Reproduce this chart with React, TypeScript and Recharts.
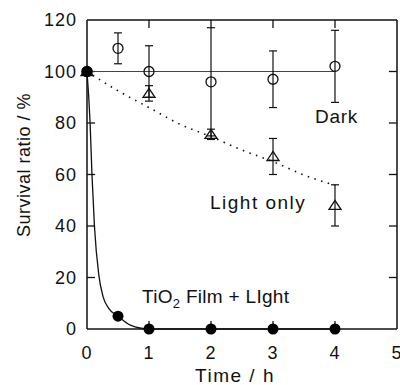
import {
  ComposedChart,
  ErrorBar,
  Line,
  ReferenceLine,
  Scatter,
  XAxis,
  YAxis,
} from "recharts";

const timeTicks = [0, 1, 2, 3, 4, 5];
const ratioTicks = [0, 20, 40, 60, 80, 100, 120];

// measured points (open circles = dark, triangles = light only, filled = TiO2 film + light)
const darkTime = [0, 0.5, 1, 2, 3, 4];
const darkRatio = [100, 109, 100, 96, 97, 102];
const darkErr = [0, 6, 10, 21, 11, 14];

const lightTime = [0, 1, 2, 3, 4];
const lightRatio = [100, 91.5, 75.6, 67, 48];
const lightErr = [0, 3, 2, 7, 8];

const tioTime = [0, 0.5, 1, 2, 3, 4];
const tioRatio = [100, 5, 0, 0, 0, 0];

// fitted curves
const darkFitTime = [0, 4];
const darkFitRatio = [100, 100];
const lightFitTime = [0, 0.5, 1, 1.5, 2, 2.5, 3, 3.5, 4];
const lightFitRatio = [100, 92.5, 86, 79.5, 74.7, 69.5, 65, 59.8, 55.8];
const tioFitTime = [0, 0.05, 0.08, 0.12, 0.19, 0.26, 0.35, 0.5, 0.7, 1, 2, 3, 4];
const tioFitRatio = [100, 80, 60, 40, 21, 12.5, 8, 5, 1.5, 0, 0, 0, 0];

const zip = (t: number[], v: number[], e?: number[]) =>
  t.map((x, i) => ({ t: x, v: v[i], e: e ? e[i] : 0 }));

const darkData = zip(darkTime, darkRatio, darkErr);
const lightData = zip(lightTime, lightRatio, lightErr);
const tioData = zip(tioTime, tioRatio);
const darkFit = zip(darkFitTime, darkFitRatio);
const lightFit = zip(lightFitTime, lightFitRatio);
const tioFit = zip(tioFitTime, tioFitRatio);

const tMin = 0;
const tMax = 5;
const vMin = 0;
const vMax = 120;
// inward tick length (~8px) in data units
const tickT = 0.13;
const tickV = 3.1;

const ink = "#111";
const font = "'Liberation Sans', Arial, Helvetica, sans-serif";

const OpenCircle = (p: any) => (
  <circle cx={p.cx} cy={p.cy} r={5} fill="none" stroke={ink} strokeWidth={1.3} />
);

const OpenTriangle = (p: any) => (
  <path
    d={`M${p.cx},${p.cy - 5} L${p.cx + 6},${p.cy + 4} L${p.cx - 6},${p.cy + 4} Z`}
    fill="none"
    stroke={ink}
    strokeWidth={1.3}
  />
);

const FilledCircle = (p: any) => <circle cx={p.cx} cy={p.cy} r={5.5} fill="#000" />;

const tickStyle = { fontSize: 18, fill: ink, letterSpacing: 1 };

export default function App() {
  const inner = (a: number[]) => a.filter((x, i) => i > 0 && i < a.length - 1);
  return (
    <div style={{ position: "absolute", left: 0, top: 0, fontFamily: font }}>
      <ComposedChart width={400} height={385} margin={{ top: 20, right: 3, bottom: 0, left: 0 }}>
        <XAxis
          type="number"
          dataKey="t"
          domain={[tMin, tMax]}
          ticks={timeTicks}
          interval={0}
          height={56}
          stroke={ink}
          strokeWidth={1.5}
          tickLine={false}
          tickSize={-8}
          tickMargin={25}
          tick={tickStyle}
        />
        <YAxis
          type="number"
          dataKey="v"
          domain={[vMin, vMax]}
          ticks={ratioTicks}
          interval={0}
          width={87}
          stroke={ink}
          strokeWidth={1.5}
          tickLine={false}
          tickSize={-8}
          tickMargin={18}
          tick={tickStyle}
        />

        {/* frame: top and right edges */}
        <ReferenceLine y={vMax} stroke={ink} strokeWidth={1.5} />
        <ReferenceLine x={tMax} stroke={ink} strokeWidth={1.5} />

        {/* inward ticks on all four sides */}
        {inner(timeTicks).map((t) => (
          <ReferenceLine
            key={`b${t}`}
            segment={[{ x: t, y: vMin }, { x: t, y: vMin + tickV }]}
            stroke={ink}
            strokeWidth={1.3}
          />
        ))}
        {inner(timeTicks).map((t) => (
          <ReferenceLine
            key={`t${t}`}
            segment={[{ x: t, y: vMax }, { x: t, y: vMax - tickV }]}
            stroke={ink}
            strokeWidth={1.3}
          />
        ))}
        {inner(ratioTicks).map((v) => (
          <ReferenceLine
            key={`l${v}`}
            segment={[{ x: tMin, y: v }, { x: tMin + tickT, y: v }]}
            stroke={ink}
            strokeWidth={1.3}
          />
        ))}
        {inner(ratioTicks).map((v) => (
          <ReferenceLine
            key={`r${v}`}
            segment={[{ x: tMax, y: v }, { x: tMax - tickT, y: v }]}
            stroke={ink}
            strokeWidth={1.3}
          />
        ))}

        <Line
          data={darkFit}
          dataKey="v"
          type="linear"
          stroke="#444"
          strokeWidth={1.2}
          dot={false}
          activeDot={false}
          isAnimationActive={false}
        />
        <Line
          data={lightFit}
          dataKey="v"
          type="monotone"
          stroke={ink}
          strokeWidth={1.6}
          strokeDasharray="1.5 5.5"
          dot={false}
          activeDot={false}
          isAnimationActive={false}
        />
        <Line
          data={tioFit}
          dataKey="v"
          type="monotone"
          stroke={ink}
          strokeWidth={1.3}
          dot={false}
          activeDot={false}
          isAnimationActive={false}
        />

        <Scatter data={darkData} dataKey="v" shape={OpenCircle} isAnimationActive={false}>
          <ErrorBar dataKey="e" direction="y" width={4} stroke={ink} strokeWidth={1.2} />
        </Scatter>
        <Scatter data={lightData} dataKey="v" shape={OpenTriangle} isAnimationActive={false}>
          <ErrorBar dataKey="e" direction="y" width={4} stroke={ink} strokeWidth={1.2} />
        </Scatter>
        <Scatter data={tioData} dataKey="v" shape={FilledCircle} isAnimationActive={false} />

        <text x={315} y={123} fontSize={19} fill={ink} letterSpacing={0.7}>
          Dark
        </text>
        <text x={210} y={209} fontSize={19} fill={ink} letterSpacing={1.5}>
          Light only
        </text>
        <text x={142} y={303} fontSize={19} fill={ink} letterSpacing={0.3}>
          TiO
          <tspan fontSize={13} dy={5}>
            2
          </tspan>
          <tspan dy={-5}> Film + LIght</tspan>
        </text>
        <text x={235} y={382} fontSize={19} fill={ink} textAnchor="middle" letterSpacing={1.5}>
          Time / h
        </text>
        <text
          x={30}
          y={165}
          fontSize={18}
          fill={ink}
          textAnchor="middle"
          letterSpacing={0.5}
          transform="rotate(-90 30 165)"
        >
          Survival ratio / %
        </text>
      </ComposedChart>
    </div>
  );
}
